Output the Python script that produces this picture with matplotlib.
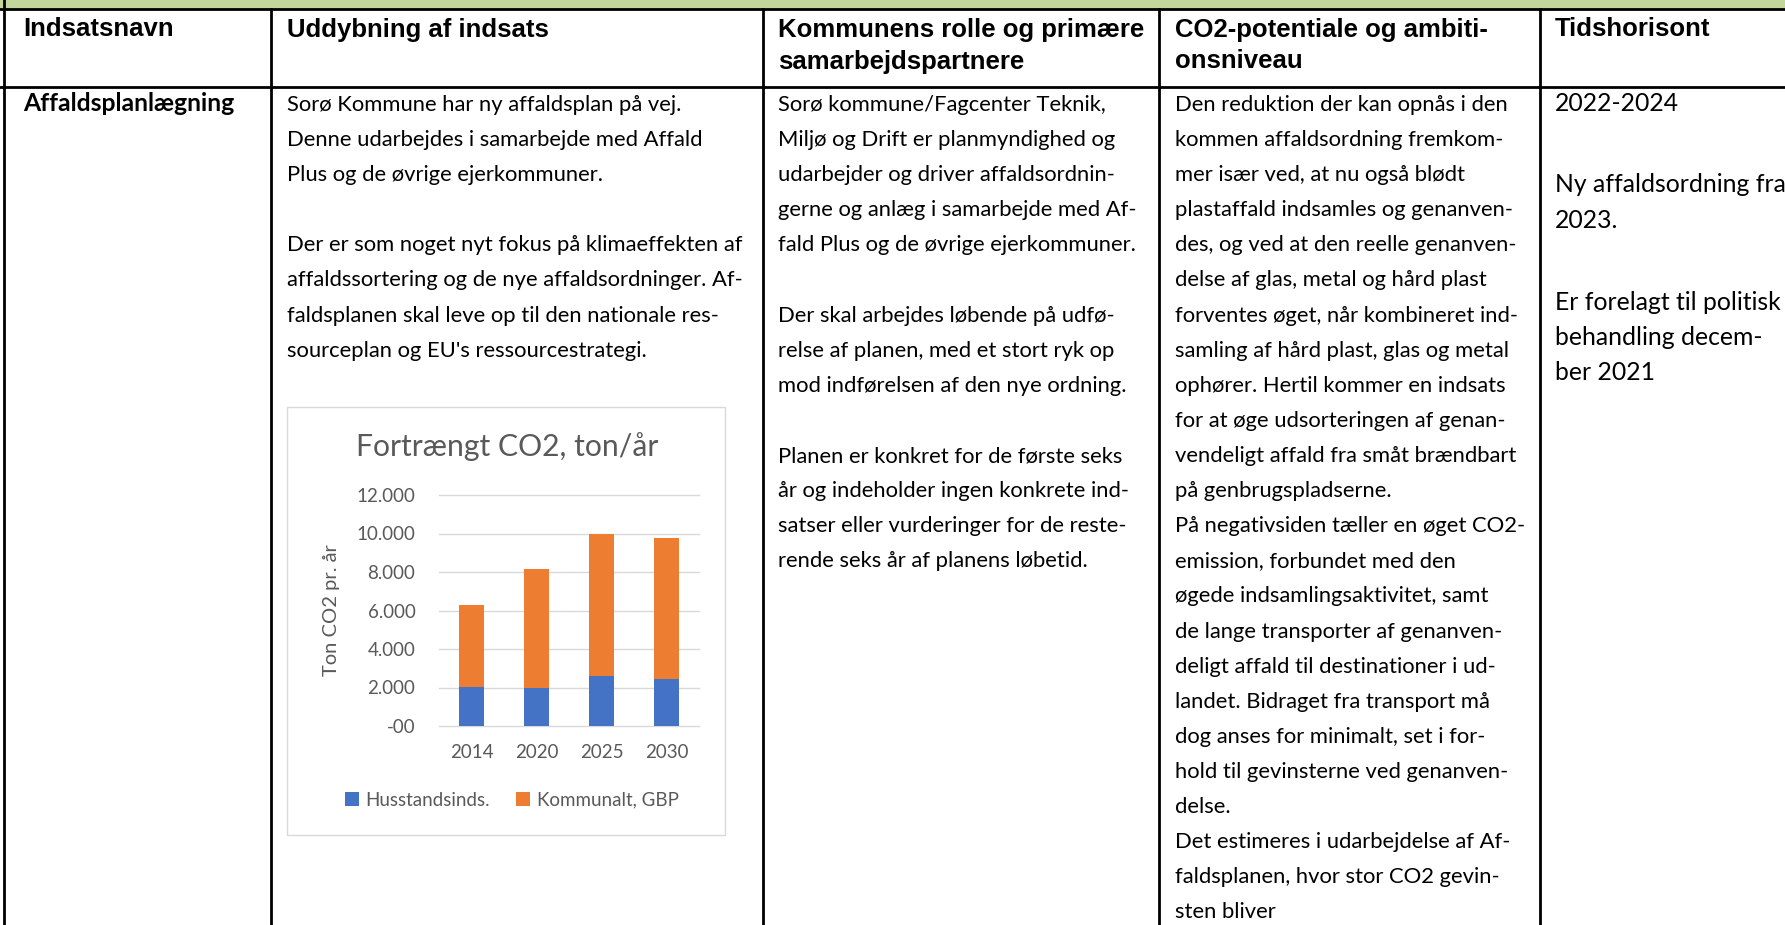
import matplotlib
matplotlib.use('Agg')
import matplotlib.pyplot as plt
from matplotlib.patches import Rectangle
from matplotlib.ticker import FuncFormatter
import numpy as np

# ---- data ----
years = ['2014', '2020', '2025', '2030']
husstand = [2050, 1950, 2600, 2450]          # Husstandsinds.
kommunalt = [4250, 6200, 7350, 7300]         # Kommunalt, GBP
yticks = [0, 2000, 4000, 6000, 8000, 10000, 12000]
series_names = ['Husstandsinds.', 'Kommunalt, GBP']

headers = [
    ['Indsatsnavn'],
    ['Uddybning af indsats'],
    ['Kommunens rolle og primære', 'samarbejdspartnere'],
    ['CO2-potentiale og ambiti-', 'onsniveau'],
    ['Tidshorisont'],
]
name = 'Affaldsplanlægning'
col2 = [
    'Sorø Kommune har ny affaldsplan på vej.',
    'Denne udarbejdes i samarbejde med Affald',
    'Plus og de øvrige ejerkommuner.',
    '',
    'Der er som noget nyt fokus på klimaeffekten af',
    'affaldssortering og de nye affaldsordninger. Af-',
    'faldsplanen skal leve op til den nationale res-',
    "sourceplan og EU's ressourcestrategi.",
]
col3 = [
    'Sorø kommune/Fagcenter Teknik,',
    'Miljø og Drift er planmyndighed og',
    'udarbejder og driver affaldsordnin-',
    'gerne og anlæg i samarbejde med Af-',
    'fald Plus og de øvrige ejerkommuner.',
    '',
    'Der skal arbejdes løbende på udfø-',
    'relse af planen, med et stort ryk op',
    'mod indførelsen af den nye ordning.',
    '',
    'Planen er konkret for de første seks',
    'år og indeholder ingen konkrete ind-',
    'satser eller vurderinger for de reste-',
    'rende seks år af planens løbetid.',
]
col4 = [
    'Den reduktion der kan opnås i den',
    'kommen affaldsordning fremkom-',
    'mer især ved, at nu også blødt',
    'plastaffald indsamles og genanven-',
    'des, og ved at den reelle genanven-',
    'delse af glas, metal og hård plast',
    'forventes øget, når kombineret ind-',
    'samling af hård plast, glas og metal',
    'ophører. Hertil kommer en indsats',
    'for at øge udsorteringen af genan-',
    'vendeligt affald fra småt brændbart',
    'på genbrugspladserne.',
    'På negativsiden tæller en øget CO2-',
    'emission, forbundet med den',
    'øgede indsamlingsaktivitet, samt',
    'de lange transporter af genanven-',
    'deligt affald til destinationer i ud-',
    'landet. Bidraget fra transport må',
    'dog anses for minimalt, set i for-',
    'hold til gevinsterne ved genanven-',
    'delse.',
    'Det estimeres i udarbejdelse af Af-',
    'faldsplanen, hvor stor CO2 gevin-',
    'sten bliver',
]
col5 = [
    '2022-2024',
    '',
    'Ny affaldsordning fra',
    '2023.',
    '',
    'Er forelagt til politisk',
    'behandling decem-',
    'ber 2021',
]

# ---- page canvas in pixel coordinates ----
W, H = 1785, 925
fig = plt.figure(figsize=(W / 100, H / 100), dpi=100)
cv = fig.add_axes([0, 0, 1, 1])
cv.set_xlim(0, W)
cv.set_ylim(H, 0)
cv.axis('off')
renderer = fig.canvas.get_renderer()


def fit(text, width, **kw):
    # font size that makes text about `width` pixels wide
    t = cv.text(0, 0, text, fontsize=20, **kw)
    w = t.get_window_extent(renderer).width
    t.remove()
    return 20 * width / w


body_fs = (fit(col2[4], 456, family='Lato') + fit(col2[0], 398, family='Lato')) / 2
col5_fs = fit('Ny affaldsordning fra', 230, family='Lato')
name_fs = fit(name, 212, family='Lato', weight='bold')
hkw = dict(family='Liberation Sans', weight='bold')
head_fs = (fit('Indsatsnavn', 153, **hkw) + fit('CO2-potentiale og ambiti-', 328, **hkw)
           + fit('Kommunens rolle og primære', 340, **hkw)) / 3

# green band on top
cv.add_patch(Rectangle((0, 0), W, 7.5, color='#C3D69B', zorder=0))

# table grid
lw = 2.0
cv.plot([0, W], [8.5, 8.5], color='black', lw=lw)
cv.plot([0, W], [87, 87], color='black', lw=lw)
cv.plot([4, 4], [0, H], color='black', lw=lw)
col_x = [271, 763, 1159, 1540]
for cx in col_x:
    cv.plot([cx, cx], [8.5, H], color='black', lw=lw)

# headers
text_x = [23, 287, 778, 1175, 1555]
for tx, hd in zip(text_x, headers):
    for i, ln in enumerate(hd):
        cv.text(tx, 36.5 + i * 32, ln, fontsize=head_fs, va='baseline', ha='left', **hkw)


def draw_col(x, lines, y0, step, fs, blank=None):
    y = y0
    for ln in lines:
        if ln:
            cv.text(x, y, ln, fontsize=fs, family='Lato', va='baseline', ha='left')
            y += step
        else:
            y += step if blank is None else blank


cv.text(text_x[0], 111, name, fontsize=name_fs, family='Lato', weight='bold',
        va='baseline', ha='left')
draw_col(text_x[1], col2, 111, 35.1, body_fs)
draw_col(text_x[2], col3, 111, 35.1, body_fs)
draw_col(text_x[3], col4, 111, 35.1, body_fs)
draw_col(text_x[4], col5, 111, 35.5, col5_fs, blank=46)

# ---- embedded chart ----
grey = '#595959'
cv.add_patch(Rectangle((287, 407), 438, 428, facecolor='white',
                       edgecolor='#D9D9D9', lw=1.0))
title_fs = fit('Fortrængt CO2, ton/år', 303, family='Lato')
cv.text(507, 447, 'Fortrængt CO2, ton/år', fontsize=title_fs, family='Lato',
        color=grey, ha='center', va='center')
cv.text(332, 610, 'Ton CO2 pr. år', fontsize=14.5, family='Lato', color=grey,
        rotation=90, ha='center', va='center')

ax = fig.add_axes([439 / W, 1 - 726 / H, 260 / W, 231 / H])
ax.patch.set_alpha(0)
x = np.arange(len(years))
b1 = ax.bar(x, husstand, width=0.39, color='#4472C4', zorder=3)
b2 = ax.bar(x, kommunalt, width=0.39, bottom=husstand, color='#ED7D31', zorder=3)
ax.set_xlim(-0.5, 3.5)
ax.set_ylim(0, 12000)
ax.set_yticks(yticks)
ax.yaxis.set_major_formatter(FuncFormatter(
    lambda v, p: '-00' if v == 0 else f'{int(v):,}'.replace(',', '.')))
ax.set_xticks(x, years)
for s in ax.spines.values():
    s.set_visible(False)
ax.tick_params(axis='both', length=0, labelsize=13.5, labelcolor=grey)
ax.tick_params(axis='y', pad=17)
ax.tick_params(axis='x', pad=13)
for lab in ax.get_xticklabels() + ax.get_yticklabels():
    lab.set_family('Lato')
ax.yaxis.grid(True, color='#D9D9D9', lw=1.0)
for gl in ax.get_ygridlines():
    gl.set_clip_on(False)
ax.set_axisbelow(True)

leg = ax.legend([b1, b2], series_names, loc='center', ncol=2, frameon=False,
                bbox_to_anchor=(512 / W, 1 - 800 / H), bbox_transform=fig.transFigure,
                prop={'family': 'Lato', 'size': 13.5}, labelcolor=grey,
                handlelength=0.75, handleheight=0.75, handletextpad=0.35,
                columnspacing=1.4)

fig.savefig('out.png', dpi=100)
